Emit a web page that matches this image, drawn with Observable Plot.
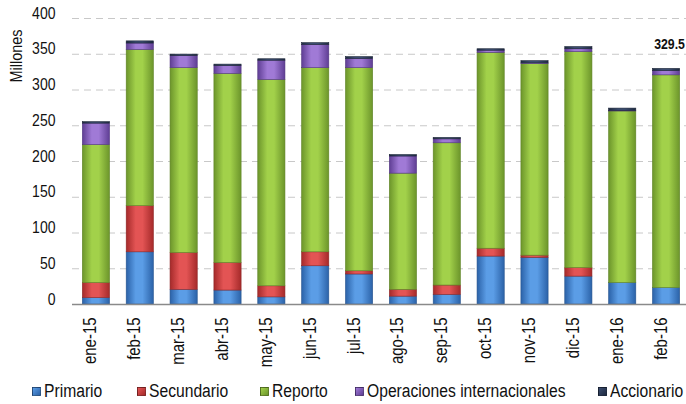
<!DOCTYPE html>
<html>
<head>
<meta charset="utf-8">
<script src="https://cdn.jsdelivr.net/npm/d3@7"></script>
<script src="https://cdn.jsdelivr.net/npm/@observablehq/plot@0.6"></script>
<style>
  body { margin: 0; background: #fff; font-family: "Liberation Sans", Arial, sans-serif; }
  #wrap { position: relative; width: 686px; height: 404px; overflow: hidden; }
  #legend { position: absolute; top: 381px; left: 0; width: 686px; height: 22px; font-size: 18px; color: #111; }
  #legend .item { position: absolute; top: 0; display: flex; align-items: center; white-space: nowrap; }
  #legend .sw { width: 7px; height: 7px; margin-right: 3px; border: 0.5px solid rgba(0,0,0,0.35); flex: none; }
  #legend .lb { display: inline-block; transform: scaleX(0.87); transform-origin: 0 50%; }
</style>
</head>
<body>
<div id="wrap">
  <div id="chart"></div>
  <div id="legend"></div>
</div>
<script>
const months = ["ene-15","feb-15","mar-15","abr-15","may-15","jun-15","jul-15","ago-15","sep-15","oct-15","nov-15","dic-15","ene-16","feb-16"];
const primario     = [9, 73, 20.5, 19.5, 10, 53.5, 42, 11, 13.5, 67, 65.3, 39, 30, 23];
const secundario   = [21, 64.5, 51.5, 38.5, 15.5, 19.5, 4.5, 9.5, 13, 11, 3, 12, 0, 0];
const reporto      = [193, 218.5, 258.5, 264.5, 288.5, 257.5, 284, 162.5, 199, 274, 268, 302, 240, 297.5];
const operaciones  = [30, 9, 17, 11, 27, 32.5, 13, 24, 5.5, 3, 1, 4, 1, 6];
const accionario   = [2, 3, 2, 2, 2, 2.5, 2.5, 2, 2, 2, 3, 3, 3, 3];
const seriesNames  = ["Primario","Secundario","Reporto","Operaciones internacionales","Accionario"];
const seriesValues = [primario, secundario, reporto, operaciones, accionario];
const yTicks = [0, 50, 100, 150, 200, 250, 300, 350, 400];
const annotMonth = "feb-16";
const annotText = "329.5";

// colour pairs: [dark edge, light centre]
const palette = [
  ["#2b62a8", "#5b9de6"],
  ["#a52a2a", "#e35454"],
  ["#6c952b", "#a2d14a"],
  ["#5f3e94", "#a07ad6"],
  ["#1e2a40", "#3b4d70"]
];
const strokes = ["#28558f", "#8e2626", "#5f8326", "#523580", "#1a2335"];

const table = [];
months.forEach((m, i) => {
  seriesNames.forEach((s, j) => {
    table.push({month: m, series: s, value: seriesValues[j][i]});
  });
});
const totals = months.map((m, i) => ({month: m, total: seriesValues.reduce((a, arr) => a + arr[i], 0)}));
const annot = totals.filter(d => d.month === annotMonth).map(d => ({...d, label: annotText}));

const font = '"Liberation Sans", Arial, sans-serif';

const chart = Plot.plot({
  width: 686,
  height: 372,
  marginTop: 18,
  marginBottom: 68,
  marginLeft: 72,
  marginRight: 0,
  style: {fontFamily: font, fontSize: "18px", color: "#111", background: "#fff", overflow: "visible"},
  x: {domain: months, range: [74, 688], round: false, paddingInner: 0.38, paddingOuter: 0.19, label: null},
  y: {domain: [0, 400], label: null},
  color: {domain: seriesNames, range: seriesNames.map((_, j) => `url(#grad${j})`)},
  marks: [
    Plot.ruleY(yTicks.filter(t => t > 0), {stroke: "#c8c8c8", strokeDasharray: "7,5", strokeWidth: 1}),
    Plot.axisY({ticks: yTicks, tickSize: 0, tickPadding: 17, label: null, fontSize: 16.5}),
    Plot.axisX({tickRotate: -90, tickSize: 0, tickPadding: 13, label: null, fontSize: 18}),
    Plot.barY(table, Plot.stackY({x: "month", y: "value", fill: "series", order: seriesNames,
      stroke: d => strokes[seriesNames.indexOf(d.series)], strokeWidth: 0.6})),
    Plot.ruleY([0], {stroke: "#8a8a8a", strokeWidth: 1.5}),
    Plot.text(annot, {x: "month", y: "total", text: "label", dy: -20, dx: 3, fontWeight: "bold", fontSize: 15, fill: "#111"})
  ]
});

// gradient definitions for the 3D-ish bar look
const svgNS = "http://www.w3.org/2000/svg";
const defs = document.createElementNS(svgNS, "defs");
palette.forEach(([dark, light], j) => {
  const g = document.createElementNS(svgNS, "linearGradient");
  g.setAttribute("id", `grad${j}`);
  g.setAttribute("x1", "0"); g.setAttribute("x2", "1"); g.setAttribute("y1", "0"); g.setAttribute("y2", "0");
  [[0, dark], [0.35, light], [0.6, light], [1, dark]].forEach(([o, c]) => {
    const st = document.createElementNS(svgNS, "stop");
    st.setAttribute("offset", o);
    st.setAttribute("stop-color", c);
    g.appendChild(st);
  });
  defs.appendChild(g);
});
chart.insertBefore(defs, chart.firstChild);

// horizontal condensing of texts (reference uses a narrow face)
function squeeze(selector, s) {
  chart.querySelectorAll(selector).forEach(t => {
    const x = +t.getAttribute("x") || 0, y = +t.getAttribute("y") || 0;
    const tr = t.getAttribute("transform") || "";
    t.removeAttribute("x"); t.removeAttribute("y");
    t.setAttribute("transform", `${tr} translate(${x},${y}) scale(${s},1)`);
  });
}
squeeze('g[aria-label="y-axis tick label"] text', 0.85);
squeeze('g[aria-label="x-axis tick label"] text', 0.83);
squeeze('g[aria-label="text"] text', 0.82);

// rotated y-axis title
const t = document.createElementNS(svgNS, "text");
t.setAttribute("transform", "translate(22,56) rotate(-90) scale(0.85,1)");
t.setAttribute("text-anchor", "middle");
t.setAttribute("style", "font-size:17px");
t.setAttribute("fill", "#111");
t.textContent = "Millones";
chart.appendChild(t);

document.getElementById("chart").appendChild(chart);

// legend
const legendX = [32, 137, 260, 355, 598];
const legend = document.getElementById("legend");
seriesNames.forEach((s, j) => {
  const it = document.createElement("div");
  it.className = "item";
  it.style.left = legendX[j] + "px";
  const sw = document.createElement("span");
  sw.className = "sw";
  sw.style.background = `linear-gradient(135deg, ${palette[j][1]}, ${palette[j][0]})`;
  const lb = document.createElement("span");
  lb.className = "lb";
  lb.textContent = s;
  it.appendChild(sw); it.appendChild(lb);
  legend.appendChild(it);
});
</script>
</body>
</html>
